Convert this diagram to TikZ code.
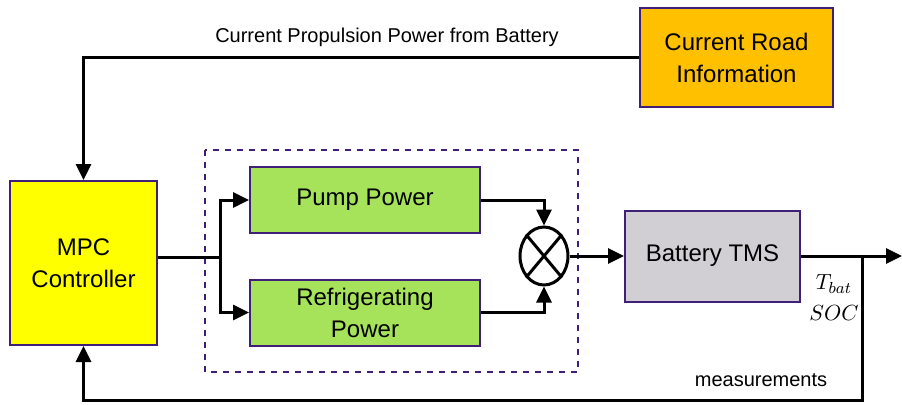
\documentclass[tikz,border=0pt]{standalone}
\usepackage{fontspec}
\setmainfont{Liberation Sans}
\usepackage{amsmath}
\usetikzlibrary{calc,arrows.meta,shapes.geometric}

\definecolor{boxline}{HTML}{3F1F78}
\definecolor{mpcfill}{HTML}{FFFF00}
\definecolor{roadfill}{HTML}{FFC000}
\definecolor{powfill}{HTML}{A6E35A}
\definecolor{tmsfill}{HTML}{D1CFD3}

\begin{document}
\begin{tikzpicture}[
  x=0.5pt, y=-0.5pt,
  block/.style={rectangle, draw=boxline, line width=1pt, align=center, font=\fontsize{12}{16}\selectfont},
  sig/.style={draw, line width=1.5pt, -{Triangle[length=8pt,width=7.5pt]}},
  wire/.style={draw, line width=1.5pt}
]
\useasboundingbox (0,0) rectangle (902,404);

% blocks
\node[block, fill=mpcfill, minimum width=73.5pt, minimum height=82pt] (mpc) at (83.5,263) {MPC\\Controller};
\node[block, fill=roadfill, minimum width=96.5pt, minimum height=49.5pt] (road) at (736.5,57.5) {Current Road\\Information};
\node[block, fill=powfill, minimum width=115pt, minimum height=33pt] (pump) at (365,200) {Pump Power};
\node[block, fill=powfill, minimum width=115pt, minimum height=33pt] (refr) at (365,312.5) {Refrigerating\\Power};
\node[block, fill=tmsfill, minimum width=87.5pt, minimum height=45.5pt] (tms) at (712.5,256) {Battery TMS};
\node[ellipse, draw, line width=1.5pt, minimum width=24pt, minimum height=29pt, inner sep=0pt] (mix) at (544,256) {};
\draw[line width=1.5pt] (mix.north west) -- (mix.south east) (mix.north east) -- (mix.south west);

% dashed group
\draw[boxline, line width=0.9pt, dashed] (205,150) rectangle (578,372);

\coordinate (split) at (220,257);
\coordinate (tap) at (862,256);
\coordinate (out) at (902,256);

% connectors
\draw[wire] (split -| mpc.east) -- (split);
\draw[sig] (split) |- (pump.west);
\draw[sig] (split) |- (refr.west);
\draw[sig] (pump.east) -| (mix.north);
\draw[sig] (refr.east) -| (mix.south);
\draw[sig] (mix.east) -- (tms.west);
\draw[sig] (tms.east) -- (out);
\draw[sig] (road.west) -| (mpc.north);
\draw[sig] (tap) -- (862,400) -| (mpc.south);

% labels
\node[font=\fontsize{10}{12}\selectfont] (lprop) at (387,37) {Current Propulsion Power from Battery};
\node[font=\fontsize{10}{12}\selectfont] (lmeas) at (761,380) {measurements};
\node[font=\fontsize{11}{13}\selectfont] (ltbat) at (834,284) {$T_{bat}$};
\node[font=\fontsize{11}{13}\selectfont] (lsoc) at (834,313) {$SOC$};
\end{tikzpicture}
\end{document}
